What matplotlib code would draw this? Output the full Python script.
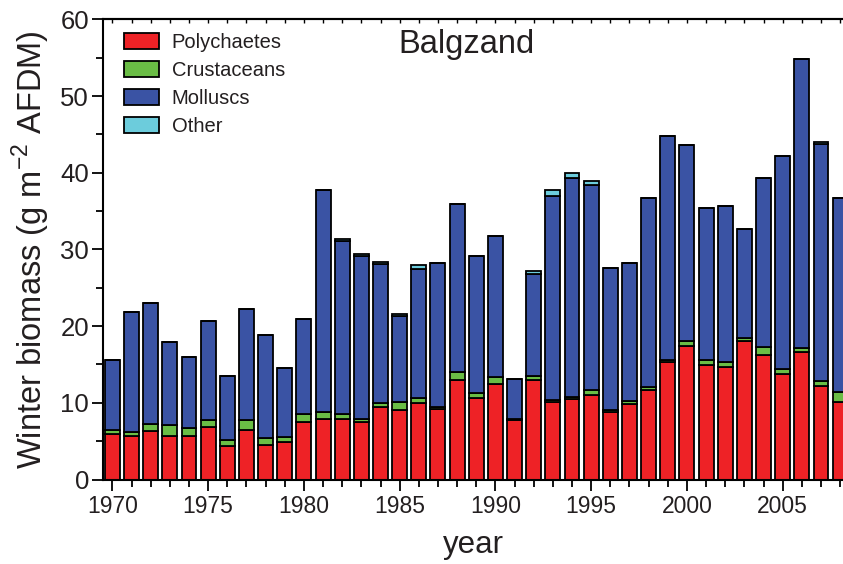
import matplotlib
matplotlib.use("Agg")
import matplotlib.pyplot as plt
from matplotlib.ticker import MultipleLocator
import numpy as np

plt.rcParams['font.family'] = ['Liberation Sans', 'DejaVu Sans']

years = list(range(1970, 2009))
polychaetes = [5.9, 5.7, 6.3, 5.7, 5.7, 6.9, 4.4, 6.45, 4.5, 4.95,
               7.45, 7.95, 7.85, 7.55, 9.5, 9.05, 9.95, 9.2, 13.0, 10.6,
               12.4, 7.7, 13.0, 10.05, 10.45, 11.0, 8.75, 9.8, 11.65, 15.3,
               17.4, 14.95, 14.7, 18.05, 16.2, 13.75, 16.65, 12.2, 10.05]
crustaceans = [0.5, 0.5, 0.9, 1.4, 1.0, 0.85, 0.75, 1.25, 0.95, 0.65,
               1.15, 0.8, 0.75, 0.3, 0.5, 1.1, 0.65, 0.3, 1.05, 0.7,
               0.9, 0.2, 0.5, 0.3, 0.35, 0.65, 0.3, 0.45, 0.35, 0.3,
               0.7, 0.65, 0.6, 0.35, 1.1, 0.65, 0.45, 0.65, 1.3]
molluscs = [9.2, 15.7, 15.8, 10.8, 9.3, 12.95, 8.35, 14.5, 13.4, 8.9,
            12.3, 29.0, 22.5, 21.3, 18.1, 11.15, 16.9, 18.7, 21.9, 17.85,
            18.4, 5.15, 13.3, 26.55, 28.5, 26.75, 18.55, 17.95, 24.75, 29.2,
            25.5, 19.8, 20.3, 14.2, 22.0, 27.8, 37.75, 30.9, 25.35]
other = [0.0, 0.0, 0.0, 0.0, 0.0, 0.0, 0.0, 0.0, 0.0, 0.0,
         0.0, 0.0, 0.3, 0.2, 0.3, 0.3, 0.45, 0.0, 0.0, 0.0,
         0.0, 0.0, 0.4, 0.85, 0.7, 0.55, 0.0, 0.0, 0.0, 0.0,
         0.0, 0.0, 0.0, 0.0, 0.0, 0.0, 0.0, 0.25, 0.0]

labels = ["Polychaetes", "Crustaceans", "Molluscs", "Other"]
colors = ["#EE2226", "#6ABD45", "#3A53A4", "#6CCCDC"]

fig = plt.figure(figsize=(8.43, 5.64), dpi=100)
ax = fig.add_axes([103/843, 1-479.5/564, 1-103/843, (479.5-19.3)/564])

x = np.array(years)
bottom = np.zeros(len(years))
for vals, lab, col in zip([polychaetes, crustaceans, molluscs, other], labels, colors):
    v = np.array(vals)
    ax.bar(x, v, width=0.78, bottom=bottom, color=col, edgecolor="black",
           linewidth=1.3, label=lab, zorder=2)
    bottom += v

ax.set_xlim(1969.51, 2008.15)
ax.set_ylim(0, 60)
ax.xaxis.set_major_locator(MultipleLocator(5))
ax.xaxis.set_minor_locator(MultipleLocator(1))
ax.yaxis.set_major_locator(MultipleLocator(10))
ax.yaxis.set_minor_locator(MultipleLocator(5))
ax.tick_params(axis='x', which='major', direction='out', length=8, width=1.3,
               labelsize=16.5, pad=3, colors='black', labelcolor='#231F20')
ax.tick_params(axis='x', which='minor', direction='out', length=5, width=1.3)
ax.tick_params(axis='y', which='major', direction='out', length=8, width=1.3,
               labelsize=18.5, pad=2, labelcolor='#231F20')
ax.tick_params(axis='y', which='minor', direction='out', length=5, width=1.3)
for s in ['left', 'bottom', 'top']:
    ax.spines[s].set_linewidth(1.5)
ax.spines['right'].set_visible(False)

sec = ax.secondary_xaxis('top')
sec.xaxis.set_major_locator(MultipleLocator(5))
sec.xaxis.set_minor_locator(MultipleLocator(1))
sec.tick_params(axis='x', which='both', direction='in', length=3, width=1.0,
                labeltop=False)
sec.spines['top'].set_linewidth(1.5)

ax.set_xlabel("year", fontsize=22.5, color='#231F20', labelpad=9)
ax.set_ylabel("Winter biomass (g m$^{\\mathregular{-2}}$ AFDM)", fontsize=23.5,
              color='#231F20', labelpad=6)

ax.text(466.7/843, 1-44/564, "Balgzand", transform=fig.transFigure,
        ha='center', va='center', fontsize=23.5, color='#231F20')

leg = ax.legend(loc='upper left', bbox_to_anchor=(124/843, 1-33/564),
                bbox_transform=fig.transFigure, frameon=False, fontsize=14.5,
                handlelength=1.76, handleheight=0.83, handletextpad=0.6,
                labelspacing=0.45, borderpad=0, borderaxespad=0)
for t in leg.get_texts():
    t.set_color('#231F20')

fig.savefig("out.png", dpi=100)
